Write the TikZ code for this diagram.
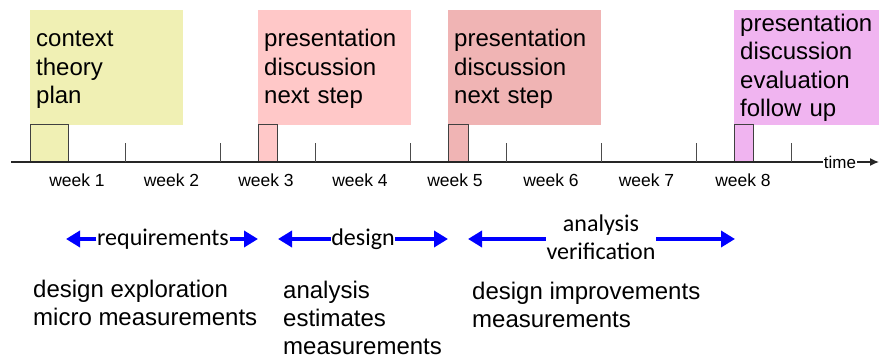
\documentclass[tikz,border=0pt]{standalone}
\usepackage{fontspec}
\setmainfont{Liberation Sans}
\newfontfamily\calfont{Carlito}
\usetikzlibrary{arrows.meta}
\definecolor{boxyellow}{RGB}{240,240,180}
\definecolor{boxpink}{RGB}{255,200,200}
\definecolor{boxrose}{RGB}{240,180,180}
\definecolor{boxviolet}{RGB}{240,180,240}
\definecolor{phblue}{RGB}{0,0,255}
\begin{document}
\begin{tikzpicture}[x=1pt,y=-1pt,
 bigbox/.style={anchor=north west, minimum height=115pt, inner xsep=6pt, inner ysep=0pt, align=left, text width=141pt, font=\fontsize{24}{28.5}\selectfont},
 markbox/.style={anchor=south west, draw=black!75, line width=0.9pt, minimum height=37pt, inner sep=0pt},
 axisline/.style={line width=1.4pt, draw=black!85},
 tickline/.style={line width=1pt, draw=black!70},
 weeklabel/.style={anchor=base, font=\fontsize{17.5}{20}\selectfont, inner sep=0pt},
 phaselabel/.style={anchor=base, font=\calfont\fontsize{24}{28}\selectfont, inner sep=0.5pt},
 phasearrow/.style={draw=phblue, line width=4pt, -{Triangle[length=14pt,width=16pt]}},
 worktext/.style={anchor=north west, align=left, inner sep=0pt, font=\fontsize{24}{28}\selectfont},
]
\path[use as bounding box] (0,0) rectangle (879,363);

% big boxes
\node[bigbox, fill=boxyellow, minimum width=153pt] (b1) at (30,10) {\rule{0pt}{20pt}context\\theory\\plan};
\node[bigbox, fill=boxpink, minimum width=153pt] (b3) at (258,10) {\rule{0pt}{20pt}presentation\\discussion\\next step};
\node[bigbox, fill=boxrose, minimum width=153pt] (b5) at (448,10) {\rule{0pt}{20pt}presentation\\discussion\\next step};
\node[bigbox, fill=boxviolet, minimum width=152pt, text width=140pt] (b8) at (734,10) {presentation\\discussion\\evaluation\\follow up};

% small marker boxes
\node[markbox, fill=boxyellow, minimum width=38pt] (m1) at (30,162) {};
\node[markbox, fill=boxpink, minimum width=19pt] (m3) at (258,162) {};
\node[markbox, fill=boxrose, minimum width=20pt] (m5) at (448,162) {};
\node[markbox, fill=boxviolet, minimum width=19pt] (m8) at (734,162) {};

% time axis
\coordinate (axstart) at (11,162);
\coordinate (axend) at (879,162);
\node[inner sep=1pt, font=\fontsize{17}{19}\selectfont] (timelabel) at (840,162) {time};
\draw[axisline] (axstart) -- (timelabel.west);
\draw[axisline, -{Latex[length=9pt,width=8pt]}] (timelabel.east) -- (axend);
\foreach \x in {125,220,315,410,506,601,696,791}
  \draw[tickline] (\x,162) -- (\x,143);

% week labels
\node[weeklabel] (w1) at (77,187) {week 1};
\node[weeklabel] (w2) at (171.5,187) {week 2};
\node[weeklabel] (w3) at (266,187) {week 3};
\node[weeklabel] (w4) at (360,187) {week 4};
\node[weeklabel] (w5) at (455,187) {week 5};
\node[weeklabel] (w6) at (551,187) {week 6};
\node[weeklabel] (w7) at (646.5,187) {week 7};
\node[weeklabel] (w8) at (743,187) {week 8};

% phases
\coordinate (reqL) at (66,239);
\coordinate (reqR) at (258,239);
\coordinate (desL) at (278,239);
\coordinate (desR) at (448,239);
\coordinate (anaL) at (468,239);
\coordinate (anaR) at (735,239);
\node[phaselabel] (req) at (163,246) {requirements};
\node[phaselabel] (des) at (363,246) {design};
\node[phaselabel] (ana) at (601,232) {analysis};
\node[phaselabel] (ver) at (601,260) {verification};
\draw[phasearrow] (req.west |- reqL) -- (reqL);
\draw[phasearrow] (req.east |- reqR) -- (reqR);
\draw[phasearrow] (des.west |- desL) -- (desL);
\draw[phasearrow] (des.east |- desR) -- (desR);
\draw[phasearrow] (ver.west |- anaL) -- (anaL);
\draw[phasearrow] (ver.east |- anaR) -- (anaR);

% activities
\node[worktext] (act1) at (33,280) {design exploration\\micro measurements};
\node[worktext] (act2) at (283,281) {analysis\\estimates\\measurements};
\node[worktext] (act3) at (472,282) {design improvements\\measurements};
\end{tikzpicture}
\end{document}
